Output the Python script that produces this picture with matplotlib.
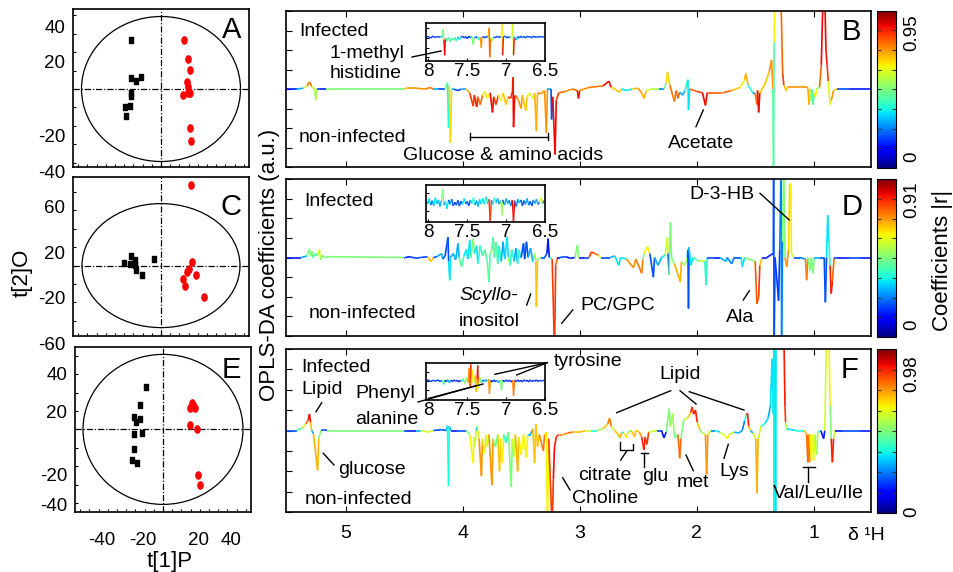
import numpy as np
import matplotlib
matplotlib.use('Agg')
import matplotlib.pyplot as plt
from matplotlib.collections import LineCollection
from matplotlib.lines import Line2D
from matplotlib.patches import Ellipse
from matplotlib.path import Path
from matplotlib.transforms import Affine2D
from matplotlib.ticker import MultipleLocator, FixedLocator
import matplotlib.colors as mcolors
import matplotlib.cm as cm

plt.rcParams['font.family'] = ['Liberation Sans', 'DejaVu Sans']

W, H = 954, 572

# ---------------- score plots (t[1]P vs t[2]O) ----------------
A_ctrl_x = [-15.2, -14.9, -12.5, -10.0, -14.9, -14.9, -15.7, -18.0, -17.7]
A_ctrl_y = [24.7, 5.3, 3.8, 6.0, -1.8, -3.3, -8.5, -9.2, -13.7]
A_inf_x = [11.3, 13.5, 14.7, 13.0, 13.3, 13.7, 14.7, 10.8, 14.7, 15.2]
A_inf_y = [24.5, 15.2, 9.3, 3.7, 0.8, -1.8, -1.8, -3.0, -19.5, -26.2]

C_ctrl_x = [-18.3, -14.8, -15.3, -13.0, -12.8, -12.5, -9.5, -3.3]
C_ctrl_y = [1.5, 5.0, 0.7, 2.8, 0.2, -2.2, -4.7, 3.5]
C_inf_x = [14.8, 15.5, 13.8, 13.0, 17.7, 11.0, 12.0, 21.5]
C_inf_y = [40.5, 2.0, -1.8, -3.0, -4.7, -6.8, -10.2, -15.5]

E_ctrl_x = [-8.3, -11.7, -14.3, -11.3, -13.7, -14.3, -10.7, -14.5, -15.3, -13.2]
E_ctrl_y = [21.0, 12.0, 6.3, 5.0, 3.8, -2.3, -1.7, -10.0, -15.3, -16.7]
E_inf_x = [14.5, 13.7, 15.8, 15.2, 13.3, 16.8, 17.5, 18.5]
E_inf_y = [13.0, 10.8, 10.8, 12.0, 2.2, 0.0, -22.8, -28.0]

# Hotelling ellipse semi-axes
A_ell = (39.75, 36.25)
C_ell = (39.5, 31.0)
E_ell = (40.0, 37.5)

# tick labels as printed on the original figure
A_ylabels = ['40', '20', '-20', '-40']
A_ylabel_at = [30.5, 13.0, -24.0, -42.0]
C_ylabels = ['60', '20', '-20', '-60']
C_ylabel_at = [28.7, 5.3, -17.2, -39.7]
E_ylabels = ['40', '20', '-20', '-40']
E_ylabel_at = [27.2, 8.0, -23.7, -38.7]
E_xlabels = ['-40', '-20', '20', '40']
E_xlabel_at = [-30.8, -10.0, 17.8, 34.2]

# ---------------- OPLS-DA coefficient spectra: (ppm, coefficient, |r|) ----------------
spec_B = [
    (5.51, 0.0, 0.15), (5.42, 0.0, 0.15), (5.36, 0.01, 0.3), (5.33, 0.04, 0.6), (5.31, 0.09, 0.78),
    (5.29, 0.03, 0.6), (5.265, 0.0, 0.3), (5.255, -0.14, 0.55), (5.245, 0.0, 0.45), (5.22, 0.0, 0.2),
    (5.17, 0.0, 0.15), (5.12, 0.0, 0.5), (4.50, 0.0, 0.5), (4.48, 0.01, 0.72), (4.40, 0.01, 0.75),
    (4.32, 0.0, 0.7), (4.28, 0.02, 0.78), (4.25, 0.0, 0.6), (4.21, 0.0, 0.3), (4.15, 0.0, 0.2),
    (4.13, 0.08, 0.5), (4.12, -0.5, 0.38), (4.115, 0.04, 0.5), (4.105, -0.69, 0.68), (4.095, 0.0, 0.5),
    (4.08, 0.0, 0.3), (4.04, -0.02, 0.2), (4.01, 0.0, 0.15), (3.97, 0.0, 0.3), (3.94, -0.05, 0.72),
    (3.91, -0.22, 0.85), (3.90, -0.08, 0.7), (3.88, -0.23, 0.88), (3.87, -0.1, 0.75), (3.85, -0.2, 0.8),
    (3.83, -0.08, 0.6), (3.81, -0.03, 0.5), (3.79, -0.12, 0.65), (3.765, -0.05, 0.7), (3.745, -0.3, 0.9),
    (3.735, -0.1, 0.8), (3.715, -0.2, 0.85), (3.695, -0.08, 0.7), (3.675, -0.15, 0.65), (3.655, -0.05, 0.6),
    (3.63, -0.2, 0.7), (3.61, -0.1, 0.8), (3.59, -0.12, 0.85), (3.575, -0.03, 0.75), (3.57, 0.15, 0.8),
    (3.565, -0.49, 0.9), (3.555, -0.08, 0.85), (3.53, -0.12, 0.8), (3.50, -0.25, 0.75), (3.49, -0.08, 0.7),
    (3.46, -0.28, 0.7), (3.45, -0.1, 0.65), (3.42, -0.05, 0.7), (3.40, -0.12, 0.6), (3.385, -0.05, 0.7),
    (3.37, -0.54, 0.72), (3.36, -0.05, 0.7), (3.33, -0.06, 0.75), (3.30, -0.02, 0.6), (3.285, -0.56, 0.75),
    (3.275, 0.0, 0.5), (3.245, 0.0, 0.3), (3.24, -0.39, 0.2), (3.23, -0.1, 0.4), (3.21, -0.84, 0.9),
    (3.20, -0.15, 0.85), (3.18, -0.05, 0.8), (3.12, -0.03, 0.75), (3.06, 0.0, 0.75), (3.02, -0.02, 0.8),
    (3.01, -0.12, 0.9), (3.00, -0.02, 0.8), (2.92, 0.02, 0.75), (2.80, 0.04, 0.78), (2.75, 0.1, 0.9),
    (2.73, 0.02, 0.7), (2.70, 0.0, 0.2), (2.66, -0.04, 0.7), (2.64, 0.0, 0.2), (2.60, -0.02, 0.35),
    (2.55, 0.0, 0.15), (2.50, 0.01, 0.7), (2.47, -0.05, 0.75), (2.45, -0.12, 0.72), (2.43, -0.02, 0.6),
    (2.38, 0.0, 0.4), (2.32, 0.0, 0.55), (2.28, 0.0, 0.25), (2.26, 0.08, 0.5), (2.25, 0.22, 0.68),
    (2.23, 0.05, 0.6), (2.19, -0.16, 0.78), (2.175, -0.02, 0.4), (2.16, -0.12, 0.8), (2.145, -0.04, 0.35),
    (2.12, -0.08, 0.3), (2.10, -0.02, 0.4), (2.075, 0.12, 0.4), (2.07, -0.27, 0.35), (2.06, 0.0, 0.3),
    (2.00, -0.03, 0.8), (1.95, -0.05, 0.85), (1.925, -0.21, 0.9), (1.91, -0.05, 0.8), (1.85, -0.05, 0.82),
    (1.78, -0.05, 0.8), (1.70, -0.02, 0.8), (1.63, 0.02, 0.7), (1.59, 0.12, 0.65), (1.58, 0.2, 0.72),
    (1.56, 0.05, 0.6), (1.52, -0.05, 0.4), (1.50, -0.06, 0.25), (1.485, -0.2, 0.8), (1.48, -0.02, 0.7),
    (1.47, -0.3, 0.9), (1.46, -0.05, 0.7), (1.42, 0.05, 0.7), (1.38, 0.22, 0.7), (1.36, 0.37, 0.75),
    (1.348, 0.0, 0.55), (1.343, -1.2, 0.45), (1.338, 0.6, 0.55), (1.333, 1.2, 0.65), (1.28, 1.2, 0.8),
    (1.265, 0.2, 0.85), (1.255, 0.05, 0.7), (1.235, -0.02, 0.3), (1.22, 0.03, 0.7), (1.10, 0.03, 0.75),
    (1.05, 0.02, 0.7), (1.04, -0.2, 0.72), (1.035, 0.0, 0.6), (1.025, -0.15, 0.55), (1.015, 0.0, 0.6),
    (1.005, -0.2, 0.45), (0.995, -0.05, 0.45), (0.985, -0.1, 0.65), (0.975, 0.0, 0.4), (0.95, 0.02, 0.5),
    (0.935, 0.3, 0.8), (0.92, 1.2, 0.9), (0.905, 1.2, 0.9), (0.895, 0.5, 0.88), (0.885, 0.3, 0.85),
    (0.875, 0.1, 0.55), (0.86, -0.2, 0.62), (0.85, -0.15, 0.75), (0.83, -0.02, 0.7), (0.80, 0.0, 0.3),
    (0.70, 0.0, 0.2), (0.60, 0.0, 0.15), (0.50, 0.0, 0.15),
]

spec_D = [
    (5.51, 0.0, 0.15), (5.38, 0.0, 0.15), (5.33, 0.02, 0.3), (5.31, 0.11, 0.5), (5.30, 0.02, 0.4),
    (5.29, 0.08, 0.5), (5.28, 0.0, 0.35), (5.26, 0.05, 0.45), (5.24, 0.02, 0.3), (5.225, 0.1, 0.6),
    (5.215, -0.03, 0.7), (5.20, 0.03, 0.5), (5.185, 0.0, 0.8), (5.15, 0.01, 0.5), (4.50, 0.0, 0.5),
    (4.49, 0.0, 0.2), (4.45, 0.01, 0.15), (4.40, -0.01, 0.2), (4.36, 0.0, 0.15), (4.30, 0.01, 0.2),
    (4.27, -0.05, 0.7), (4.25, 0.0, 0.3), (4.22, 0.01, 0.2), (4.18, 0.05, 0.3), (4.17, -0.02, 0.25),
    (4.15, 0.02, 0.2), (4.125, 0.26, 0.2), (4.12, -0.05, 0.3), (4.11, -0.29, 0.35), (4.105, 0.0, 0.3),
    (4.08, 0.05, 0.3), (4.06, -0.03, 0.35), (4.04, 0.18, 0.3), (4.03, 0.0, 0.25), (4.01, -0.12, 0.45),
    (3.99, 0.02, 0.3), (3.97, 0.1, 0.35), (3.955, -0.02, 0.4), (3.94, 0.22, 0.35), (3.93, 0.0, 0.3),
    (3.91, 0.24, 0.5), (3.90, 0.05, 0.4), (3.88, 0.15, 0.35), (3.87, -0.08, 0.45), (3.85, 0.15, 0.4),
    (3.83, 0.02, 0.3), (3.81, 0.1, 0.45), (3.79, -0.05, 0.5), (3.775, -0.31, 0.45), (3.765, 0.05, 0.35),
    (3.75, 0.1, 0.5), (3.74, 0.26, 0.45), (3.73, 0.0, 0.4), (3.715, 0.2, 0.45), (3.70, -0.08, 0.55),
    (3.69, 0.15, 0.4), (3.67, -0.05, 0.35), (3.655, 0.2, 0.3), (3.64, -0.02, 0.4), (3.62, 0.26, 0.35),
    (3.61, 0.0, 0.3), (3.595, -0.1, 0.55), (3.58, 0.1, 0.4), (3.56, -0.05, 0.35), (3.545, 0.12, 0.3),
    (3.53, -0.08, 0.55), (3.52, 0.1, 0.4), (3.50, 0.0, 0.3), (3.48, 0.18, 0.2), (3.47, -0.02, 0.3),
    (3.455, 0.2, 0.2), (3.44, 0.0, 0.35), (3.42, 0.12, 0.3), (3.40, -0.06, 0.4), (3.385, 0.05, 0.35),
    (3.375, -0.05, 0.55), (3.37, -0.63, 0.7), (3.36, -0.03, 0.5), (3.33, 0.0, 0.3), (3.30, 0.0, 0.2),
    (3.28, 0.05, 0.2), (3.27, 0.24, 0.15), (3.26, 0.0, 0.2), (3.235, -0.02, 0.4), (3.215, -1.2, 0.85),
    (3.205, -0.1, 0.8), (3.19, 0.0, 0.2), (3.17, 0.0, 0.15), (3.12, 0.01, 0.2), (3.08, -0.01, 0.15),
    (3.04, 0.0, 0.2), (3.02, 0.16, 0.5), (3.01, 0.0, 0.2), (2.96, 0.0, 0.15), (2.92, 0.0, 0.2),
    (2.90, 0.07, 0.85), (2.87, 0.05, 0.8), (2.84, 0.03, 0.6), (2.82, 0.0, 0.3), (2.78, 0.0, 0.2),
    (2.74, 0.0, 0.2), (2.70, 0.02, 0.3), (2.665, -0.1, 0.35), (2.65, 0.0, 0.3), (2.60, -0.02, 0.35),
    (2.54, -0.13, 0.75), (2.52, -0.02, 0.5), (2.47, -0.2, 0.78), (2.46, -0.03, 0.4), (2.45, 0.05, 0.5),
    (2.42, 0.14, 0.65), (2.40, 0.05, 0.5), (2.37, -0.25, 0.2), (2.36, 0.0, 0.3), (2.33, -0.1, 0.3),
    (2.30, 0.0, 0.3), (2.27, 0.03, 0.35), (2.25, 0.26, 0.6), (2.245, 0.05, 0.5), (2.235, -0.22, 0.2),
    (2.225, 0.45, 0.5), (2.215, 0.0, 0.55), (2.19, -0.08, 0.5), (2.14, -0.31, 0.72), (2.13, -0.05, 0.6),
    (2.10, -0.1, 0.55), (2.08, 0.0, 0.3), (2.075, 0.1, 0.3), (2.07, -0.65, 0.2), (2.065, 0.13, 0.35),
    (2.05, -0.1, 0.35), (2.03, 0.0, 0.35), (1.98, -0.05, 0.45), (1.93, -0.05, 0.6), (1.92, -0.35, 0.4),
    (1.91, 0.0, 0.3), (1.85, 0.0, 0.2), (1.80, 0.0, 0.15), (1.75, -0.05, 0.3), (1.74, 0.0, 0.2),
    (1.70, -0.08, 0.25), (1.68, 0.0, 0.3), (1.62, 0.0, 0.2), (1.61, -0.12, 0.35), (1.59, 0.0, 0.3),
    (1.50, -0.05, 0.5), (1.485, -0.59, 0.82), (1.47, -0.5, 0.85), (1.46, -0.1, 0.7), (1.44, 0.0, 0.2),
    (1.40, 0.0, 0.15), (1.37, 0.03, 0.15), (1.345, 0.05, 0.15), (1.342, 1.2, 0.2), (1.338, -1.2, 0.2),
    (1.33, 0.0, 0.25), (1.30, -0.55, 0.18), (1.29, 0.1, 0.2), (1.278, 1.2, 0.25), (1.274, -1.2, 0.25),
    (1.266, 0.2, 0.35), (1.256, 1.2, 0.5), (1.245, 0.0, 0.45), (1.23, -0.12, 0.75), (1.215, 0.1, 0.4),
    (1.205, 0.94, 0.68), (1.195, 0.94, 0.66), (1.19, 0.05, 0.6), (1.17, 0.0, 0.3), (1.12, 0.0, 0.2),
    (1.07, -0.02, 0.25), (1.06, -0.29, 0.78), (1.05, 0.0, 0.4), (1.03, -0.17, 0.5), (1.02, 0.0, 0.4),
    (1.005, -0.2, 0.5), (0.995, 0.0, 0.35), (0.95, 0.0, 0.3), (0.91, 0.0, 0.2), (0.9, -0.57, 0.2),
    (0.89, 0.0, 0.3), (0.88, 0.54, 0.35), (0.87, 0.2, 0.4), (0.86, -0.1, 0.6), (0.85, -0.46, 0.88),
    (0.84, -0.3, 0.8), (0.825, 0.0, 0.5), (0.80, 0.0, 0.2), (0.70, 0.0, 0.15), (0.60, 0.0, 0.2),
    (0.50, 0.0, 0.15),
]

spec_F = [
    (5.51, 0.0, 0.15), (5.42, 0.0, 0.2), (5.37, 0.03, 0.45), (5.34, 0.08, 0.6), (5.32, 0.13, 0.8),
    (5.31, 0.2, 0.9), (5.30, 0.1, 0.7), (5.29, 0.0, 0.4), (5.275, -0.04, 0.3), (5.24, -0.49, 0.72),
    (5.23, -0.1, 0.5), (5.21, 0.0, 0.25), (5.19, 0.01, 0.2), (5.16, 0.0, 0.15), (5.12, 0.0, 0.5),
    (4.50, 0.0, 0.5), (4.48, 0.0, 0.2), (4.40, 0.0, 0.15), (4.36, 0.0, 0.3), (4.30, -0.02, 0.6),
    (4.25, 0.0, 0.55), (4.18, 0.01, 0.2), (4.14, 0.0, 0.15), (4.13, 0.06, 0.3), (4.12, -0.68, 0.38),
    (4.115, 0.05, 0.3), (4.10, 0.0, 0.2), (4.05, 0.0, 0.15), (3.97, 0.0, 0.2), (3.94, -0.05, 0.5),
    (3.91, -0.4, 0.65), (3.905, -0.08, 0.5), (3.895, -0.2, 0.6), (3.885, 0.0, 0.4), (3.875, 0.05, 0.3),
    (3.86, -0.1, 0.6), (3.84, -0.56, 0.75), (3.83, -0.1, 0.6), (3.81, -0.28, 0.65), (3.80, -0.05, 0.5),
    (3.79, -0.2, 0.6), (3.775, -0.05, 0.4), (3.75, -0.67, 0.75), (3.74, -0.1, 0.6), (3.72, -0.2, 0.5),
    (3.70, -0.05, 0.4), (3.685, -0.5, 0.7), (3.675, -0.1, 0.6), (3.66, -0.4, 0.65), (3.65, -0.05, 0.3),
    (3.63, -0.15, 0.4), (3.61, -0.02, 0.3), (3.585, -0.69, 0.5), (3.575, -0.1, 0.45), (3.56, -0.32, 0.6),
    (3.55, -0.05, 0.5), (3.53, -0.5, 0.72), (3.52, -0.08, 0.6), (3.50, -0.3, 0.65), (3.48, -0.05, 0.5),
    (3.455, -0.33, 0.65), (3.445, -0.05, 0.5), (3.42, -0.05, 0.3), (3.40, 0.02, 0.2), (3.385, -0.4, 0.7),
    (3.375, 0.08, 0.2), (3.36, -0.2, 0.7), (3.345, -0.05, 0.6), (3.31, -0.25, 0.78), (3.30, -0.05, 0.65),
    (3.285, -0.02, 0.6), (3.275, -1.2, 0.65), (3.265, -0.1, 0.7), (3.235, -1.2, 0.85), (3.225, -0.6, 0.9),
    (3.215, -0.2, 0.88), (3.20, -0.08, 0.85), (3.18, -0.05, 0.82), (3.14, -0.05, 0.75), (3.10, -0.03, 0.8),
    (3.06, -0.02, 0.75), (3.00, -0.02, 0.7), (2.95, 0.0, 0.65), (2.90, 0.0, 0.6), (2.85, 0.0, 0.4),
    (2.80, 0.02, 0.55), (2.76, 0.08, 0.7), (2.745, 0.15, 0.78), (2.73, 0.05, 0.6), (2.70, 0.0, 0.35),
    (2.67, -0.05, 0.7), (2.655, -0.09, 0.72), (2.64, -0.02, 0.6), (2.62, -0.03, 0.4), (2.60, -0.09, 0.65),
    (2.585, -0.02, 0.5), (2.56, 0.0, 0.3), (2.53, -0.08, 0.7), (2.52, 0.0, 0.5), (2.49, -0.02, 0.7),
    (2.47, -0.08, 0.75), (2.45, -0.24, 0.88), (2.44, -0.08, 0.8), (2.425, -0.17, 0.85), (2.41, -0.02, 0.6),
    (2.34, 0.0, 0.3), (2.30, 0.0, 0.2), (2.28, -0.09, 0.15), (2.26, -0.02, 0.2), (2.235, 0.27, 0.5),
    (2.225, 0.05, 0.4), (2.205, 0.21, 0.55), (2.195, 0.0, 0.5), (2.185, -0.09, 0.5), (2.16, -0.05, 0.5),
    (2.145, -0.34, 0.8), (2.135, -0.1, 0.7), (2.11, 0.13, 0.5), (2.08, 0.15, 0.6), (2.05, 0.22, 0.7),
    (2.04, 0.29, 0.85), (2.025, 0.2, 0.75), (2.01, 0.25, 0.88), (1.995, 0.1, 0.7), (1.97, 0.0, 0.5),
    (1.95, -0.03, 0.5), (1.925, -0.05, 0.6), (1.915, -0.54, 0.75), (1.905, -0.05, 0.6), (1.88, 0.0, 0.3),
    (1.84, 0.0, 0.25), (1.80, -0.02, 0.35), (1.76, -0.06, 0.6), (1.74, -0.1, 0.65), (1.72, -0.05, 0.6),
    (1.68, -0.02, 0.4), (1.64, -0.03, 0.3), (1.61, 0.0, 0.2), (1.59, 0.12, 0.25), (1.575, 0.2, 0.4),
    (1.565, 0.21, 0.88), (1.555, 0.05, 0.7), (1.54, 0.0, 0.2), (1.52, -0.03, 0.3), (1.495, -0.1, 0.6),
    (1.485, -0.77, 0.72), (1.475, -0.1, 0.6), (1.45, 0.05, 0.5), (1.42, 0.08, 0.4), (1.39, 0.15, 0.35),
    (1.37, 0.3, 0.3), (1.355, 0.88, 0.35), (1.345, 0.2, 0.35), (1.34, 1.2, 0.35), (1.338, -1.2, 0.35),
    (1.335, 1.2, 0.38), (1.332, -1.2, 0.35), (1.328, 1.2, 0.38), (1.325, -1.2, 0.35), (1.322, 1.2, 0.35),
    (1.27, 1.2, 0.8), (1.255, 1.2, 0.88), (1.245, 0.3, 0.85), (1.24, 0.1, 0.55), (1.23, 0.02, 0.35),
    (1.15, 0.0, 0.35), (1.08, 0.0, 0.4), (1.06, -0.05, 0.7), (1.05, -0.39, 0.8), (1.045, -0.05, 0.7),
    (1.035, -0.39, 0.78), (1.03, -0.05, 0.6), (1.02, -0.36, 0.65), (1.01, -0.05, 0.55), (1.00, -0.37, 0.62),
    (0.99, -0.05, 0.5), (0.975, -0.3, 0.55), (0.965, -0.02, 0.45), (0.94, 0.0, 0.3), (0.915, -0.1, 0.15),
    (0.905, 0.0, 0.25), (0.89, 1.2, 0.6), (0.87, 1.2, 0.65), (0.86, 0.3, 0.5), (0.85, -0.1, 0.55),
    (0.84, -0.39, 0.88), (0.83, -0.1, 0.6), (0.815, 0.0, 0.2), (0.75, 0.0, 0.15), (0.60, 0.0, 0.2),
    (0.50, 0.0, 0.15),
]

# aromatic region insets (8 - 6.5 ppm)
inset_B = [
    (8.03, 0.02, 0.2), (8.00, 0.04, 0.18), (7.97, 0.0, 0.2), (7.94, 0.05, 0.18), (7.91, 0.01, 0.2),
    (7.88, 0.04, 0.18), (7.85, 0.02, 0.2), (7.82, 0.05, 0.3), (7.81, 0.23, 0.5), (7.80, -0.05, 0.6),
    (7.79, -0.45, 0.9), (7.78, 0.0, 0.5), (7.76, -0.08, 0.45), (7.74, 0.02, 0.35), (7.72, -0.1, 0.45),
    (7.70, 0.0, 0.4), (7.68, -0.06, 0.45), (7.66, 0.02, 0.3), (7.64, -0.08, 0.4), (7.62, 0.03, 0.3),
    (7.60, -0.04, 0.35), (7.58, 0.02, 0.2), (7.56, 0.05, 0.18), (7.54, 0.0, 0.2), (7.52, 0.04, 0.18),
    (7.50, -0.02, 0.2), (7.48, 0.05, 0.18), (7.46, 0.01, 0.2), (7.44, 0.04, 0.25), (7.425, -0.17, 0.5),
    (7.41, 0.03, 0.3), (7.39, 0.0, 0.2), (7.37, 0.05, 0.18), (7.35, -0.05, 0.4), (7.33, 0.02, 0.25),
    (7.32, -0.25, 0.75), (7.31, 0.02, 0.4), (7.29, 0.04, 0.2), (7.27, 0.0, 0.18), (7.25, 0.05, 0.2),
    (7.23, 0.02, 0.5), (7.22, 0.27, 0.65), (7.21, -0.5, 0.8), (7.20, 0.02, 0.5), (7.18, -0.08, 0.55),
    (7.16, 0.03, 0.2), (7.14, 0.0, 0.18), (7.12, 0.05, 0.2), (7.10, 0.01, 0.18), (7.08, 0.04, 0.2),
    (7.06, 0.02, 0.5), (7.055, 0.5, 0.65), (7.045, -0.45, 0.9), (7.035, 0.03, 0.4), (7.01, 0.05, 0.2),
    (6.99, 0.0, 0.18), (6.97, 0.04, 0.2), (6.95, 0.01, 0.18), (6.925, 0.02, 0.5), (6.915, 0.5, 0.6),
    (6.905, -0.45, 0.9), (6.895, 0.03, 0.4), (6.87, -0.05, 0.3), (6.85, 0.04, 0.2), (6.83, 0.0, 0.18),
    (6.81, 0.05, 0.2), (6.79, 0.01, 0.18), (6.77, 0.04, 0.2), (6.75, 0.0, 0.18), (6.73, 0.05, 0.2),
    (6.71, 0.02, 0.18), (6.69, 0.04, 0.2), (6.67, 0.0, 0.18), (6.65, 0.05, 0.2), (6.63, 0.02, 0.18),
    (6.61, 0.04, 0.2), (6.59, 0.01, 0.18), (6.57, 0.05, 0.2), (6.55, 0.02, 0.18), (6.53, 0.04, 0.2),
    (6.51, 0.02, 0.18),
]

inset_D = [
    (8.03, 0.05, 0.3), (8.01, -0.05, 0.25), (7.99, 0.1, 0.35), (7.97, -0.08, 0.2), (7.95, 0.04, 0.3),
    (7.93, -0.1, 0.25), (7.91, 0.12, 0.35), (7.89, -0.04, 0.2), (7.87, 0.06, 0.3), (7.85, -0.12, 0.3),
    (7.83, 0.05, 0.25), (7.815, 0.35, 0.5), (7.80, -0.08, 0.3), (7.78, 0.02, 0.25), (7.76, -0.18, 0.35),
    (7.74, 0.06, 0.3), (7.72, -0.06, 0.2), (7.70, 0.08, 0.3), (7.68, -0.1, 0.2), (7.66, 0.0, 0.25),
    (7.64, -0.08, 0.2), (7.62, 0.05, 0.3), (7.60, -0.1, 0.2), (7.58, 0.03, 0.25), (7.56, -0.06, 0.2),
    (7.54, 0.1, 0.35), (7.52, -0.05, 0.2), (7.50, 0.02, 0.25), (7.48, -0.1, 0.2), (7.46, 0.06, 0.3),
    (7.44, -0.04, 0.2), (7.42, 0.12, 0.4), (7.40, -0.08, 0.25), (7.38, 0.04, 0.3), (7.36, -0.12, 0.3),
    (7.34, 0.08, 0.35), (7.32, -0.05, 0.25), (7.30, 0.1, 0.35), (7.28, -0.06, 0.25), (7.26, 0.15, 0.4),
    (7.24, -0.04, 0.3), (7.22, 0.08, 0.35), (7.205, -0.52, 0.85), (7.19, 0.05, 0.35), (7.17, -0.06, 0.25),
    (7.15, 0.12, 0.4), (7.13, -0.02, 0.3), (7.11, 0.1, 0.3), (7.09, -0.05, 0.25), (7.065, 0.04, 0.35),
    (7.055, -0.35, 0.55), (7.045, 0.06, 0.3), (7.02, -0.08, 0.2), (7.00, 0.1, 0.3), (6.98, -0.04, 0.2),
    (6.96, 0.05, 0.3), (6.94, -0.1, 0.25), (6.92, 0.06, 0.3), (6.905, -0.52, 0.9), (6.89, 0.04, 0.3),
    (6.87, -0.12, 0.25), (6.85, 0.08, 0.3), (6.83, -0.02, 0.2), (6.81, 0.06, 0.3), (6.79, -0.1, 0.2),
    (6.77, 0.04, 0.25), (6.75, -0.06, 0.2), (6.73, 0.1, 0.3), (6.71, -0.08, 0.2), (6.69, 0.02, 0.25),
    (6.67, -0.1, 0.2), (6.65, 0.06, 0.3), (6.63, -0.04, 0.2), (6.61, 0.08, 0.3), (6.59, -0.06, 0.25),
    (6.57, 0.0, 0.2), (6.55, 0.12, 0.6), (6.53, -0.04, 0.3), (6.51, 0.05, 0.25),
]

inset_F = [
    (8.03, 0.0, 0.15), (8.00, 0.03, 0.18), (7.97, -0.02, 0.15), (7.94, 0.02, 0.18), (7.91, -0.01, 0.15),
    (7.88, 0.03, 0.18), (7.85, -0.02, 0.15), (7.82, 0.02, 0.18), (7.80, -0.1, 0.45), (7.79, 0.02, 0.3),
    (7.77, -0.02, 0.15), (7.75, 0.03, 0.18), (7.73, -0.05, 0.3), (7.71, 0.02, 0.18), (7.69, -0.02, 0.15),
    (7.67, 0.03, 0.18), (7.65, -0.01, 0.15), (7.63, 0.02, 0.18), (7.61, -0.03, 0.15), (7.59, 0.02, 0.18),
    (7.57, -0.02, 0.25), (7.55, 0.06, 0.4), (7.53, -0.08, 0.5), (7.51, 0.1, 0.55), (7.49, -0.05, 0.6),
    (7.475, 0.35, 0.75), (7.465, -0.15, 0.6), (7.455, 0.45, 0.85), (7.445, -0.1, 0.55), (7.43, 0.3, 0.65),
    (7.42, -0.05, 0.5), (7.40, 0.15, 0.6), (7.385, -0.3, 0.7), (7.375, 0.05, 0.5), (7.365, 0.42, 0.88),
    (7.355, -0.2, 0.6), (7.34, 0.1, 0.5), (7.32, -0.05, 0.35), (7.30, 0.03, 0.18), (7.28, -0.02, 0.15),
    (7.26, 0.04, 0.3), (7.24, -0.03, 0.18), (7.225, 0.05, 0.4), (7.215, -0.35, 0.75), (7.20, 0.02, 0.4),
    (7.18, -0.03, 0.15), (7.16, 0.03, 0.18), (7.14, -0.02, 0.15), (7.12, 0.02, 0.18), (7.10, -0.05, 0.3),
    (7.075, 0.02, 0.3), (7.06, -0.25, 0.5), (7.045, 0.02, 0.3), (7.02, -0.02, 0.15), (7.00, 0.03, 0.18),
    (6.98, -0.02, 0.15), (6.96, 0.02, 0.18), (6.93, -0.03, 0.15), (6.915, 0.02, 0.4), (6.905, -0.4, 0.78),
    (6.89, 0.02, 0.4), (6.87, -0.02, 0.15), (6.85, 0.03, 0.18), (6.83, -0.02, 0.15), (6.81, 0.02, 0.18),
    (6.79, -0.03, 0.15), (6.77, 0.03, 0.18), (6.75, -0.01, 0.15), (6.73, 0.02, 0.18), (6.71, -0.03, 0.15),
    (6.69, 0.03, 0.18), (6.67, -0.02, 0.15), (6.65, 0.02, 0.18), (6.63, -0.01, 0.15), (6.61, 0.03, 0.18),
    (6.59, -0.02, 0.15), (6.57, 0.02, 0.18), (6.55, -0.01, 0.15), (6.53, 0.02, 0.18), (6.51, 0.0, 0.15),
]

ppm_ticks = [5, 4, 3, 2, 1]
inset_ticks = [8, 7.5, 7, 6.5]
inset_ticklabels = ['8', '7.5', '7', '6.5']
cbar_max_labels = ['0.95', '0.91', '0.98']

# ---------------- helpers ----------------
norm = mcolors.Normalize(0, 1)
FS = 14
TFS = 13.5


def rect(x0, y0, x1, y1):
    # pixel box -> figure fraction
    return [x0 / W, 1 - y1 / H, (x1 - x0) / W, (y1 - y0) / H]


def ftext(x, y, s, **kw):
    kw.setdefault('fontsize', FS)
    kw.setdefault('ha', 'left')
    kw.setdefault('va', 'center')
    fig.text(x / W, 1 - y / H, s, **kw)


def fline(xs, ys, lw=1.0):
    fig.add_artist(Line2D([x / W for x in xs], [1 - y / H for y in ys],
                          transform=fig.transFigure, color='k', lw=lw))


def colored_line(ax, spec, lw=1.2):
    arr = np.array(spec)
    x, y, r = arr[:, 0], arr[:, 1], arr[:, 2]
    pts = np.column_stack([x, y]).reshape(-1, 1, 2)
    segs = np.concatenate([pts[:-1], pts[1:]], axis=1)
    seg_r = np.where(np.abs(y[:-1]) > np.abs(y[1:]), r[:-1], r[1:])
    lc = LineCollection(segs, cmap='jet', norm=norm, linewidths=lw)
    lc.set_array(seg_r)
    ax.add_collection(lc)


sq_marker = Path([(-0.35, -0.5), (0.35, -0.5), (0.35, 0.5), (-0.35, 0.5), (-0.35, -0.5)],
                 [Path.MOVETO, Path.LINETO, Path.LINETO, Path.LINETO, Path.CLOSEPOLY])
oval_marker = Path.unit_circle().transformed(Affine2D().scale(0.72, 1.0))


def score_panel(box, xlim, ylim, ell, cx, cy, ix, iy, letter, lpos, ylabs, ylab_at):
    ax = fig.add_axes(rect(*box))
    ax.set_xlim(xlim)
    ax.set_ylim(ylim)
    dd = (0, (5, 1.5, 1, 1.5))
    ax.axhline(0, color='k', lw=0.9, ls=dd)
    ax.axvline(0, color='k', lw=0.9, ls=dd)
    ax.add_patch(Ellipse((0, 0), 2 * ell[0], 2 * ell[1], fill=False, ec='k', lw=0.9))
    ax.plot(cx, cy, ls='none', marker=sq_marker, ms=4.8, color='k')
    ax.plot(ix, iy, ls='none', marker=oval_marker, ms=5.2, color='#ff0000', mec='#ff0000')
    ax.xaxis.set_major_locator(MultipleLocator(4.6))
    ax.yaxis.set_major_locator(MultipleLocator(9.2))
    ax.tick_params(direction='in', length=2.5, width=0.8, labelleft=False, labelbottom=False)
    for s in ax.spines.values():
        s.set_linewidth(1.2)
    for lab, yv in zip(ylabs, ylab_at):
        ax.text(-0.045, yv, lab, transform=ax.get_yaxis_transform(), ha='right', va='center',
                fontsize=TFS, clip_on=False)
    ax.text(lpos[0], lpos[1], letter, transform=ax.transAxes, ha='center', va='center', fontsize=21)
    return ax


def spec_panel(box, spec, letter, lpos, labels=False):
    ax = fig.add_axes(rect(*box))
    ax.set_xlim(5.51, 0.51)
    ax.set_ylim(-1, 1)
    colored_line(ax, spec)
    ax.xaxis.set_major_locator(FixedLocator(ppm_ticks))
    ax.yaxis.set_major_locator(MultipleLocator(0.25))
    ax.tick_params(axis='x', direction='in', length=4, width=0.8, top=True, bottom=True,
                   labelbottom=labels, labelsize=FS, pad=9)
    ax.tick_params(axis='y', direction='in', length=4, width=0.8, left=True, labelleft=False)
    if labels:
        ax.set_xticklabels([str(t) for t in ppm_ticks])
    for s in ax.spines.values():
        s.set_linewidth(1.2)
    ax.text(lpos[0], lpos[1], letter, transform=ax.transAxes, ha='center', va='center', fontsize=21)
    return ax


def inset_panel(box, spec, ylim):
    ax = fig.add_axes(rect(*box))
    ax.set_xlim(8.03, 6.5)
    ax.set_ylim(ylim)
    colored_line(ax, spec, lw=1.0)
    ax.set_xticks(inset_ticks)
    ax.set_xticklabels(inset_ticklabels)
    ax.yaxis.set_major_locator(MultipleLocator(0.25))
    ax.tick_params(direction='in', length=2.5, width=0.8, labelsize=TFS, pad=1.5, labelleft=False)
    for s in ax.spines.values():
        s.set_linewidth(1.2)
    return ax


def cbar_panel(box, top_label, top_at, zero_at):
    cax = fig.add_axes(rect(*box))
    cb = fig.colorbar(cm.ScalarMappable(norm=norm, cmap='jet'), cax=cax)
    cb.set_ticks(list(np.arange(1, 8) / 8))
    cax.tick_params(direction='in', length=3, width=0.8, color='#333333', left=True, right=True,
                    labelleft=False, labelright=False)
    cb.outline.set_linewidth(0.8)
    cax.text(1.85, top_at, top_label, transform=cax.transAxes, rotation=90, ha='center',
             va='center', fontsize=TFS)
    cax.text(1.85, zero_at, '0', transform=cax.transAxes, rotation=90, ha='center',
             va='center', fontsize=TFS)


# ---------------- figure ----------------
fig = plt.figure(figsize=(W / 100, H / 100), dpi=100)

score_panel((73, 9, 249, 167), (-44, 44), (-39, 40), A_ell, A_ctrl_x, A_ctrl_y, A_inf_x, A_inf_y,
            'A', (0.9, 0.865), A_ylabels, A_ylabel_at)
score_panel((73, 177, 249, 336), (-44, 44), (-35.2, 44.3), C_ell, C_ctrl_x, C_ctrl_y, C_inf_x, C_inf_y,
            'C', (0.9, 0.81), C_ylabels, C_ylabel_at)
axE = score_panel((75, 347, 251, 512), (-44, 44), (-41.3, 41.2), E_ell, E_ctrl_x, E_ctrl_y, E_inf_x, E_inf_y,
                  'E', (0.89, 0.86), E_ylabels, E_ylabel_at)
for lab, xv in zip(E_xlabels, E_xlabel_at):
    axE.text(xv, -0.17, lab, transform=axE.get_xaxis_transform(), ha='center', va='center',
             fontsize=TFS, clip_on=False)

spec_panel((286, 11, 871, 167), spec_B, 'B', (0.966, 0.865))
spec_panel((286, 179, 871, 336), spec_D, 'D', (0.967, 0.82))
spec_panel((286, 349, 871, 512), spec_F, 'F', (0.964, 0.87), labels=True)

inset_panel((426, 22.7, 545, 61), inset_B, (-0.6, 0.4))
inset_panel((426, 185, 545, 222.3), inset_D, (-0.54, 0.46))
inset_panel((426, 363.3, 545, 400), inset_F, (-0.52, 0.48))

cbar_panel((877, 10.7, 896, 168), cbar_max_labels[0], 0.86, 0.07)
cbar_panel((877, 179, 896, 337), cbar_max_labels[1], 0.87, 0.076)
cbar_panel((877, 349, 896, 513), cbar_max_labels[2], 0.85, 0.01)

# axis titles
ftext(22, 273, 't[2]O', rotation=90, ha='center', fontsize=16)
ftext(170, 561, 't[1]P', ha='center', fontsize=16)
ftext(270, 265, 'OPLS-DA coefficients (a.u.)', rotation=90, ha='center', fontsize=16)
ftext(943, 260, 'Coefficients |r|', rotation=90, ha='center', fontsize=16)
ftext(866, 536, 'δ ¹H', ha='center', fontsize=FS)

# ---- panel B annotations
ftext(299, 31, 'Infected')
ftext(330, 53, '1-methyl')
ftext(330, 73, 'histidine')
fline([412, 441], [57, 51])
ftext(299, 137, 'non-infected')
ftext(403, 155, 'Glucose & amino acids')
fline([470, 548.3], [136.7, 136.7])
fline([470, 470], [133, 140])
fline([548.3, 548.3], [133, 140])
ftext(668, 143, 'Acetate')
fline([703.3, 696], [110, 126.7])

# ---- panel D annotations
ftext(304, 201, 'Infected')
ftext(309, 313, 'non-infected')
ftext(459, 295, 'Scyllo-', style='italic')
ftext(459, 321, 'inositol')
fline([526.7, 530.7], [305, 294])
ftext(580, 306, 'PC/GPC')
fline([561.7, 572.7], [323.3, 310])
ftext(725.7, 318, 'Ala')
fline([743.3, 749.3], [300, 290.7])
ftext(689.3, 195, 'D-3-HB')
fline([760, 789.3], [193.3, 220])

# ---- panel F annotations
ftext(301.7, 367, 'Infected')
ftext(301.7, 389, 'Lipid')
fline([316, 321.7], [411.7, 402.7])
ftext(355, 393, 'Phenyl')
ftext(355, 419, 'alanine')
fline([418, 475], [402, 386])
fline([430, 483], [398, 384])
ftext(553.3, 362, 'tyrosine')
fline([547.3, 495], [362.7, 374.3])
fline([547.3, 516.7], [362.7, 375])
ftext(338.3, 470, 'glucose')
fline([323.3, 334], [453.3, 465])
ftext(305, 500, 'non-infected')
ftext(578.3, 475, 'citrate')
ftext(572.3, 498.3, 'Choline')
fline([562.7, 570], [477.7, 490])
fline([620, 620, 633.3, 633.3], [441.7, 450, 450, 444])
fline([626.7, 620.7], [451, 460])
ftext(641.7, 476.7, 'glu')
fline([640.7, 648.3], [453.3, 453.3])
fline([644.3, 644.3], [453.3, 466.7])
ftext(676.7, 482.7, 'met')
fline([686, 693.3], [455, 470.7])
ftext(719.3, 471.7, 'Lys')
fline([728.3, 724], [444.3, 458.3])
ftext(659.3, 374.3, 'Lipid')
fline([670.7, 616.7], [390.7, 412.7])
fline([680, 696], [390.7, 404])
fline([689.3, 744], [391.7, 410])
ftext(773.3, 494, 'Val/Leu/Ile')
fline([803.3, 815], [466.7, 466.7])
fline([808.3, 808.3], [466.7, 481.7])

fig.savefig('out.png', dpi=100)
